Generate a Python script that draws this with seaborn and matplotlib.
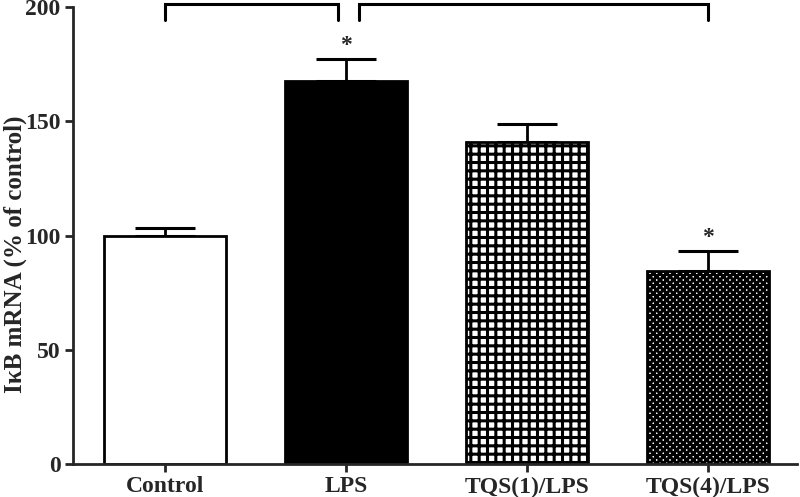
import numpy as np
import matplotlib
matplotlib.use("Agg")
import matplotlib.pyplot as plt
import seaborn as sns

# data
groups = ['Control', 'LPS', 'TQS(1)/LPS', 'TQS(4)/LPS']
means = [100, 167.6, 141, 84.5]
errs = [3.5, 9.8, 7.7, 8.9]
stars = ['', '*', '', '*']
hatches = ['', '', '++', 'xxxxx']
fills = ['white', 'black', 'white', 'white']
# significance brackets: (x start, x end)
brackets = [(0, 0.955), (1.075, 3.0)]

sns.set_theme(style='ticks')
plt.rcParams['font.family'] = ['Liberation Serif', 'DejaVu Serif']
plt.rcParams['hatch.linewidth'] = 2.2
plt.rcParams['hatch.color'] = 'black'

fig = plt.figure(figsize=(8, 4.97), dpi=100)
ax = fig.add_axes([0.0912, 0.0664, 0.905, 0.9195])

sns.barplot(x=groups, y=means, hue=groups, palette=dict(zip(groups, fills)),
            width=0.67, edgecolor='black', linewidth=2.0, legend=False,
            errorbar=None, ax=ax, zorder=2)

for p, h in zip(ax.patches, hatches):
    p.set_hatch(h)
    p.set_edgecolor('black')

x = np.arange(len(groups))
ax.errorbar(x, means, yerr=[np.zeros(len(errs)), errs], fmt='none',
            ecolor='black', elinewidth=2.0, capsize=21.5, capthick=2.2, zorder=1)

for xi, m, e, s in zip(x, means, errs, stars):
    if s:
        ax.text(xi, m + e + 1, s, ha='center', va='bottom', fontsize=17,
                fontweight='bold')

for x0, x1 in brackets:
    ax.plot([x0, x0, x1, x1], [194.5, 201.3, 201.3, 194.5], color='black',
            lw=2.2, clip_on=False, solid_joinstyle='miter')

ax.set_xlim(-0.508, 3.492)
ax.set_ylim(0, 200)
ax.set_yticks([0, 50, 100, 150, 200])
sns.despine(ax=ax)
for sp in ['left', 'bottom']:
    ax.spines[sp].set_linewidth(2.0)
ax.tick_params(axis='both', width=2.0, length=6, labelsize=17, pad=3)
for lab in ax.get_xticklabels() + ax.get_yticklabels():
    lab.set_fontweight('bold')

ax.set_ylabel('I\u03baB mRNA (% of control)', fontsize=18, fontweight='bold')
ax.yaxis.set_label_coords(-0.064, 0.46)
ax.set_xlabel('')

fig.savefig('out.png', dpi=100)
